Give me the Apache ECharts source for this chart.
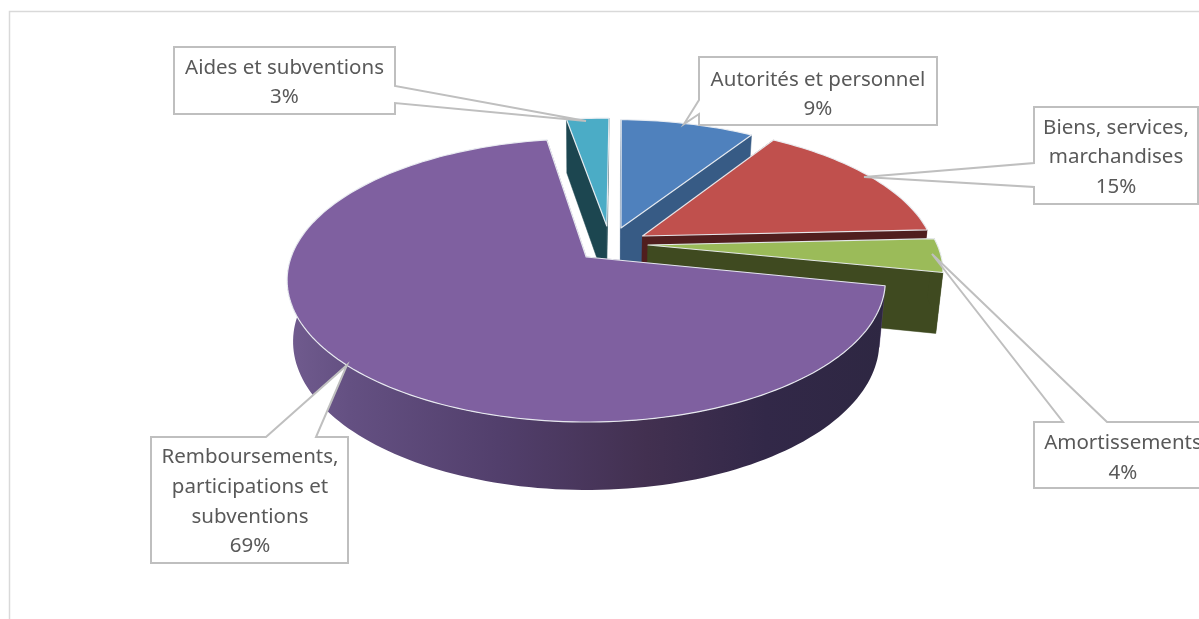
<!DOCTYPE html>
<html><head><meta charset="utf-8">
<style>html,body{margin:0;padding:0;background:#fff}#c{width:1199px;height:619px}</style>
<script src="https://cdn.jsdelivr.net/npm/echarts@6/dist/echarts.min.js"></script>
</head><body><div id="c"></div>
<script>
// Data (clockwise from the top)
const categories = ['Autorités et personnel', 'Biens, services,\nmarchandises', 'Amortissements', 'Remboursements,\nparticipations et\nsubventions', 'Aides et subventions'];
const shares = [8.8, 15.1, 4, 69.3, 2.8];
const labelShares = [9, 15, 4, 69, 3];

// Colours
const topColors  = ['#4f81bd', '#c0504d', '#9bbb59', '#7f60a0', '#4bacc6'];
const wallColors = ['#375b85', '#501e1e', '#3f4a20', '#5f4a7a', '#1c4650'];

// Perspective disc geometry
const CX = 585, CY = 257, R = 298, RK = 137.8, P = 0.165;
const BOTTOM_CY = 317.2, BOTTOM_X = 0.98, BOTTOM_Y = 1.047;
const START_DEG = 1.2;
const explodeU = [0.125, 0.198, 0.2145, 0.004, 0.076];
const explodeV = [-0.218, -0.1563, -0.0884, 0, -0.2336];
const radiiU = [0.975, 0.99, 0.985, 0.99, 0.975];
const radiiV = [0.975, 0.99, 0.985, 1, 0.975];
const paintOrder = [4, 0, 1, 2, 3];

// Callouts: box, wedge, label anchor
const callouts = [
  {box:[699,57,937,125], wedge:'left', a:100, b:114, tip:[684,124], text:[818,94.5]},
  {box:[1034,107,1198,204], wedge:'left', a:163, b:187, tip:[864,177], text:[1116,157.5]},
  {box:[1034,422,1225,488], wedge:'top', a:1063, b:1107, tip:[932,254], text:[1123,458]},
  {box:[151,437,348,563], wedge:'top', a:266, b:316, tip:[347,365], text:[250,502]},
  {box:[174,47,395,114], wedge:'right', a:86, b:103, tip:[586,121], text:[284.5,82.5]}
];

function top3d(u, v) {
  const s = 1 / (1 - P * v);
  return [CX + R * u * s, CY + RK * v * s];
}
function drop(pt) {
  return [CX + (pt[0] - CX) * BOTTOM_X, BOTTOM_CY + (pt[1] - CY) * BOTTOM_Y];
}
const total = shares.reduce((a, b) => a + b, 0);
let acc = START_DEG;
const ranges = shares.map(s => { const a = acc; acc += s / total * 360; return [a, acc]; });

function rim(i, a0, a1) {
  const out = [], n = Math.max(2, Math.ceil((a1 - a0) / 1.5));
  for (let k = 0; k <= n; k++) {
    const t = (a0 + (a1 - a0) * k / n) * Math.PI / 180;
    out.push(top3d(explodeU[i] + radiiU[i] * Math.sin(t), explodeV[i] - radiiV[i] * Math.cos(t)));
  }
  return out;
}
const edge = {stroke: 'rgba(235,238,242,0.95)', lineWidth: 1.2, lineJoin: 'round'};

function renderSlice(params) {
  const i = paintOrder[params.dataIndex];
  const [a0, a1] = ranges[i];
  const apex = top3d(explodeU[i], explodeV[i]);
  const arc = rim(i, a0, a1);
  const children = [];
  const wallFill = wallColors[i];
  const radial = p => ({type: 'polygon', shape: {points: [apex, p, drop(p), drop(apex)]},
    style: {fill: wallFill, stroke: wallFill, lineWidth: 0.5}});
  children.push(radial(arc[0]));
  children.push(radial(arc[arc.length - 1]));
  const w0 = Math.max(a0, 80), w1 = Math.min(a1, 285);
  if (w1 > w0) {
    const wallTop = rim(i, w0, w1);
    const pts = wallTop.concat(wallTop.slice().reverse().map(drop));
    const fill = i === 3 ? new echarts.graphic.LinearGradient(290, 0, 885, 0, [
      {offset: 0, color: '#705b8e'}, {offset: 0.1, color: '#645082'}, {offset: 0.35, color: '#523f6c'},
      {offset: 0.6, color: '#423050'}, {offset: 0.8, color: '#322848'}, {offset: 1, color: '#2e2742'}
    ], true) : wallFill;
    children.push({type: 'polygon', shape: {points: pts}, style: {fill: fill, stroke: null}});
  }
  children.push({type: 'polygon', shape: {points: [apex].concat(arc)},
    style: Object.assign({fill: topColors[i]}, edge)});
  return {type: 'group', children: children};
}

function calloutPoints(c) {
  const [x0, y0, x1, y1] = c.box;
  if (c.wedge === 'left') return [[x0,y0],[x1,y0],[x1,y1],[x0,y1],[x0,c.b],c.tip,[x0,c.a]];
  if (c.wedge === 'right') return [[x0,y0],[x1,y0],[x1,c.a],c.tip,[x1,c.b],[x1,y1],[x0,y1]];
  return [[x0,y0],[c.a,y0],c.tip,[c.b,y0],[x1,y0],[x1,y1],[x0,y1]];
}
const graphics = [{type: 'polyline', z: 1, shape: {points: [[9.5,619],[9.5,11.5],[1199,11.5]]},
  style: {stroke: '#d9d9d9', lineWidth: 1.5, fill: null}}];
callouts.forEach((c, i) => {
  graphics.push({type: 'polygon', z: 20, shape: {points: calloutPoints(c)},
    style: {fill: '#ffffff', stroke: '#bfbfbf', lineWidth: 2}});
  graphics.push({type: 'text', z: 21, x: c.text[0], y: c.text[1], style: {
    text: categories[i] + '\n' + labelShares[i] + '%', align: 'center', verticalAlign: 'middle',
    font: '20.5px "Noto Sans"', lineHeight: 29.6, fill: '#595959'}});
});

const chart = echarts.init(document.getElementById('c'), null, {renderer: 'canvas'});
chart.setOption({
  animation: false,
  backgroundColor: '#ffffff',
  graphic: graphics,
  series: [{
    type: 'custom', coordinateSystem: 'none', z: 5,
    data: paintOrder.map(i => shares[i]),
    renderItem: renderSlice, silent: true
  }]
});
</script></body></html>
